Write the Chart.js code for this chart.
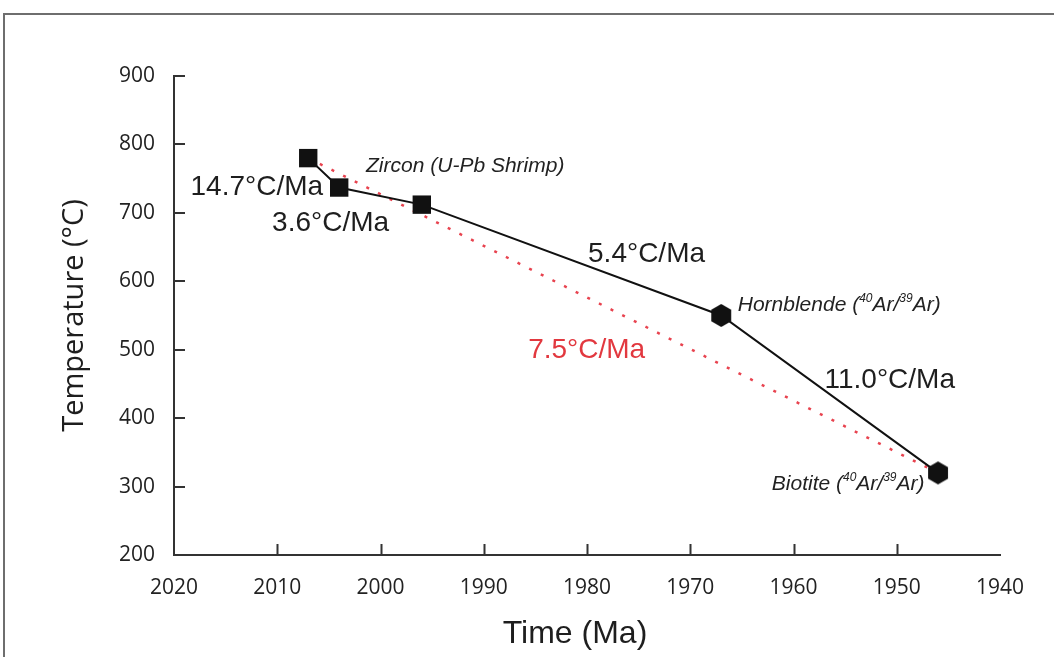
<!DOCTYPE html>
<html>
<head>
<meta charset="utf-8">
<script src="https://cdn.jsdelivr.net/npm/chart.js@4.4.0/dist/chart.umd.min.js"></script>
<style>
  html, body { margin: 0; padding: 0; background: #fff; }
  #wrap { position: relative; width: 1054px; height: 657px; overflow: hidden; }
  #frame { position: absolute; left: 3px; top: 13px; width: 1100px; height: 700px;
           border-top: 2px solid #6e6e6e; border-left: 2px solid #6e6e6e; }
  #wrap canvas { position: absolute; left: 0; top: 0; }
</style>
</head>
<body>
<div id="wrap">
  <div id="frame"></div>
  <canvas id="myChart" width="1054" height="657"></canvas>
</div>
<script>
// cooling path, ages in Ma and temperatures in °C
const ages = [2007, 2004, 1996, 1967, 1946];
const temps = [780, 737, 712, 550, 320];
const markers = ['square', 'square', 'square', 'hexagon', 'hexagon'];

// straight-line average cooling (red dotted)
const avgAges = [2007, 1946];
const avgTemps = [780, 320];

// axis ticks
const xTicks = [2020, 2010, 2000, 1990, 1980, 1970, 1960, 1950, 1940];
const yTicks = [200, 300, 400, 500, 600, 700, 800, 900];

// text notes on the plot
const rateText = ['14.7°C/Ma', '3.6°C/Ma', '5.4°C/Ma', '7.5°C/Ma', '11.0°C/Ma'];
const rateAge = [2018.4, 2010.5, 1979.9, 1985.7, 1957.0];
const rateTemp = [726, 673, 628, 488, 444];
const rateColor = ['#1e1e1e', '#1e1e1e', '#1e1e1e', '#e2383f', '#1e1e1e'];

const mineralText = [
  [['Zircon (U-Pb Shrimp)', false]],
  [['Hornblende (', false], ['40', true], ['Ar/', false], ['39', true], ['Ar)', false]],
  [['Biotite (', false], ['40', true], ['Ar/', false], ['39', true], ['Ar)', false]]
];
const mineralAge = [2001.4, 1965.4, 1962.1];
const mineralTemp = [760, 557, 295];

function hexagon(r) {
  const c = document.createElement('canvas');
  const w = Math.ceil(Math.sqrt(3) * r) + 2;
  const h = Math.ceil(2 * r) + 2;
  c.width = w;
  c.height = h;
  const g = c.getContext('2d');
  g.beginPath();
  for (let i = 0; i < 6; i++) {
    const a = Math.PI / 3 * i - Math.PI / 2;
    const px = w / 2 + r * Math.cos(a);
    const py = h / 2 + r * Math.sin(a);
    if (i === 0) g.moveTo(px, py); else g.lineTo(px, py);
  }
  g.closePath();
  g.fillStyle = '#111';
  g.fill();
  return c;
}
const hex = hexagon(11.5);
const pointStyles = markers.map(m => m === 'hexagon' ? hex : 'rect');

const extras = {
  id: 'extras',
  beforeDatasetsDraw(chart) {
    const ctx = chart.ctx;
    const x = chart.scales.x, y = chart.scales.y;
    ctx.save();
    ctx.strokeStyle = '#333';
    ctx.lineWidth = 2;
    ctx.beginPath();
    // ticks point into the plot
    xTicks.slice(1, -1).forEach(v => {
      const px = Math.round(x.getPixelForValue(v)) + 0.5;
      ctx.moveTo(px, y.bottom);
      ctx.lineTo(px, y.bottom - 11);
    });
    yTicks.slice(1).forEach(v => {
      const py = Math.round(y.getPixelForValue(v));
      ctx.moveTo(x.left, py);
      ctx.lineTo(x.left + 11, py);
    });
    ctx.stroke();
    ctx.restore();
  },
  afterDatasetsDraw(chart) {
    const ctx = chart.ctx;
    const x = chart.scales.x, y = chart.scales.y;
    ctx.save();
    ctx.textBaseline = 'alphabetic';
    ctx.textAlign = 'left';
    ctx.font = '28px "Liberation Sans", Arial, sans-serif';
    rateText.forEach((t, i) => {
      ctx.fillStyle = rateColor[i];
      ctx.fillText(t, x.getPixelForValue(rateAge[i]), y.getPixelForValue(rateTemp[i]));
    });
    ctx.fillStyle = '#222';
    mineralText.forEach((parts, i) => {
      let px = x.getPixelForValue(mineralAge[i]);
      const py = y.getPixelForValue(mineralTemp[i]);
      parts.forEach(([t, sup]) => {
        ctx.font = sup ? 'italic 12px "Liberation Sans", Arial, sans-serif'
                       : 'italic 21px "Liberation Sans", Arial, sans-serif';
        ctx.fillText(t, px, sup ? py - 9 : py);
        px += ctx.measureText(t).width;
      });
    });
    // x axis title, set a little left of centre as in the original figure
    ctx.fillStyle = '#1e1e1e';
    ctx.textAlign = 'center';
    ctx.font = '32px "Liberation Sans", Arial, sans-serif';
    ctx.fillText('Time (Ma)', (x.left + x.right) / 2 - 12, 643);
    ctx.restore();
  }
};

const ctx = document.getElementById('myChart');

new Chart(ctx, {
  type: 'line',
  data: {
    datasets: [
      {
        label: 'Cooling path',
        data: ages.map((a, i) => ({ x: a, y: temps[i] })),
        borderColor: '#111',
        backgroundColor: '#111',
        borderWidth: 2,
        pointStyle: pointStyles,
        pointRadius: 13,
        pointBorderWidth: 0,
        fill: false
      },
      {
        label: 'Average',
        data: avgAges.map((a, i) => ({ x: a, y: avgTemps[i] })),
        borderColor: '#e8434f',
        borderWidth: 2.5,
        borderDash: [3, 10],
        pointRadius: 0,
        fill: false
      }
    ]
  },
  options: {
    responsive: false,
    animation: false,
    layout: { padding: { top: 76, right: 54, left: 0, bottom: 0 } },
    plugins: { legend: { display: false }, tooltip: { enabled: false } },
    scales: {
      x: {
        type: 'linear',
        reverse: true,
        min: 1940,
        max: 2020,
        afterBuildTicks: s => { s.ticks = xTicks.map(v => ({ value: v })); },
        afterFit: s => { s.height = 102; },
        grid: { display: false, drawTicks: false },
        border: { display: true, color: '#333', width: 2 },
        ticks: {
          padding: 20,
          color: '#222',
          callback: v => String(v),
          font: { family: '"Open Sans", sans-serif', size: 21 }
        },
        title: { display: false, text: 'Time (Ma)' }
      },
      y: {
        min: 200,
        max: 900,
        afterBuildTicks: s => { s.ticks = yTicks.map(v => ({ value: v })); },
        afterFit: s => { s.width = 174; },
        grid: { display: false, drawTicks: false },
        border: { display: true, color: '#333', width: 2 },
        ticks: {
          padding: 19,
          color: '#222',
          callback: v => String(v),
          font: { family: '"Open Sans", sans-serif', size: 21 }
        },
        title: {
          display: true,
          text: 'Temperature (°C)',
          color: '#1e1e1e',
          padding: { top: 57, bottom: 0 },
          font: { family: '"Open Sans", sans-serif', size: 29 }
        }
      }
    }
  },
  plugins: [extras]
});
</script>
</body>
</html>
